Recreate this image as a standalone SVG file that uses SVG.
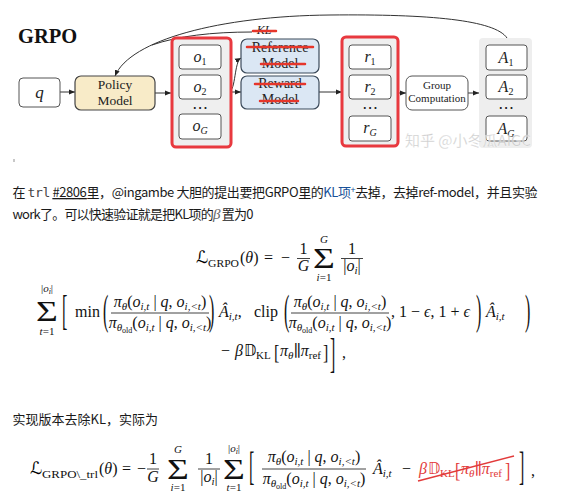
<svg xmlns="http://www.w3.org/2000/svg" width="563" height="500" viewBox="0 0 563 500">
<defs>
<marker id="ah" markerWidth="6" markerHeight="6" refX="6" refY="3" orient="auto" markerUnits="userSpaceOnUse"><path d="M0,0.5 L6,3 L0,5.5 z" fill="#222"/></marker>
<style>
.bx{fill:#fff;stroke:#555;stroke-width:1}
.grp{fill:#efefef;stroke:#e8393f;stroke-width:3}
.gry{fill:#eeeeee;stroke:none}
.pol{fill:#f8ebc8;stroke:#444;stroke-width:1.2}
.blu{fill:#dbe7f4;stroke:#3b4a5a;stroke-width:1.2}
.lt{font-family:"Liberation Serif","DejaVu Serif",serif;fill:#222}
.sk{stroke:#e6362b;stroke-width:2.5;stroke-linecap:round;fill:none}
.cn{stroke:#333;stroke-width:1;fill:none}
.p{font-family:"Noto Sans CJK SC","Noto Sans",sans-serif;font-size:13px;fill:#1a1a1a}
.m{font-family:"Liberation Serif","DejaVu Serif",serif;font-size:16px;fill:#111}
.it{font-style:italic}
.sb{font-size:11px}
.ssb{font-size:8px}
.sm{font-size:11px}
.big{font-size:30px}
.cal{font-family:"DejaVu Serif","DejaVu Sans",serif;font-style:italic;font-size:17px}
.ds{font-family:"DejaVu Sans","DejaVu Serif",serif;font-size:15px}
.bar{stroke:#111;stroke-width:0.8}
.red{fill:#e23a3a}
</style>
</defs>

<text x="18" y="43" font-family="Liberation Serif" font-weight="bold" font-size="20.5" fill="#111">GRPO</text>

<g id="connectors">
<path class="cn" d="M60 92 L75 92" marker-end="url(#ah)"/>
<path class="cn" d="M155 93 L171 93" marker-end="url(#ah)"/>
<path class="cn" d="M232 92 L241 92" marker-end="url(#ah)"/>
<path class="cn" d="M229 92 C236 90, 234 62, 241 58" marker-end="url(#ah)"/>
<path class="cn" d="M319 92 L342 92" marker-end="url(#ah)"/>
<path class="cn" d="M398 93 L406 93" marker-end="url(#ah)"/>
<path class="cn" d="M468 93 L479 93" marker-end="url(#ah)"/>
<path class="cn" d="M507 38 C495 20, 430 14, 330 15 C220 16, 130 40, 115 76" marker-end="url(#ah)"/>
<path class="cn" d="M152 45 C178 36, 212 32, 252 32"/>
</g>

<g id="q"><rect class="bx" x="19" y="78" width="41" height="29" rx="4"/><text class="lt it" x="39.5" y="98" font-size="17" text-anchor="middle">q</text></g>

<g id="policy"><rect class="pol" x="75" y="76" width="80" height="34" rx="6"/><text class="lt" font-size="13.5" text-anchor="middle"><tspan x="115" y="89">Policy</tspan><tspan x="115" y="105">Model</tspan></text></g>

<g id="outputs">
<rect class="grp" x="172" y="38" width="59" height="109" rx="4"/>
<rect class="bx" x="179" y="45" width="42" height="24" rx="3"/>
<text class="lt" x="200" y="62" text-anchor="middle" font-size="16"><tspan font-style="italic">o</tspan><tspan font-size="10" dy="3">1</tspan></text>
<rect class="bx" x="179" y="75" width="42" height="24" rx="3"/>
<text class="lt" x="200" y="92" text-anchor="middle" font-size="16"><tspan font-style="italic">o</tspan><tspan font-size="10" dy="3">2</tspan></text>
<text x="200" y="113" text-anchor="middle" font-family="DejaVu Sans" font-size="16" fill="#222">⋯</text>
<rect class="bx" x="179" y="114" width="42" height="25" rx="3"/>
<text class="lt" x="200" y="131" text-anchor="middle" font-size="16"><tspan font-style="italic">o</tspan><tspan font-size="10" font-style="italic" dy="3">G</tspan></text>
</g>

<g id="kl"><text class="lt it" x="264" y="34" font-size="12" text-anchor="middle">KL</text><path class="sk" d="M253 31 L276 31"/></g>

<g id="reference"><rect class="blu" x="241" y="39" width="78" height="34" rx="6"/><text class="lt" font-size="14" text-anchor="middle"><tspan x="280" y="52">Reference</tspan><tspan x="280" y="68">Model</tspan></text><path class="sk" d="M247 47 L313 47 M261 64 L305 64"/></g>

<g id="reward"><rect class="blu" x="241" y="76" width="78" height="33" rx="6"/><text class="lt" font-size="14" text-anchor="middle"><tspan x="280" y="88">Reward</tspan><tspan x="280" y="104">Model</tspan></text><path class="sk" d="M255 84 L305 84 M260 101 L298 101"/></g>

<g id="rewards">
<rect class="grp" x="342" y="37" width="56" height="109" rx="4"/>
<rect class="bx" x="349" y="45" width="42" height="24" rx="3"/>
<text class="lt" x="370" y="62" text-anchor="middle" font-size="16"><tspan font-style="italic">r</tspan><tspan font-size="10" dy="3">1</tspan></text>
<rect class="bx" x="349" y="75" width="42" height="24" rx="3"/>
<text class="lt" x="370" y="92" text-anchor="middle" font-size="16"><tspan font-style="italic">r</tspan><tspan font-size="10" dy="3">2</tspan></text>
<text x="370" y="113" text-anchor="middle" font-family="DejaVu Sans" font-size="16" fill="#222">⋯</text>
<rect class="bx" x="349" y="116" width="42" height="25" rx="3"/>
<text class="lt" x="370" y="133" text-anchor="middle" font-size="16"><tspan font-style="italic">r</tspan><tspan font-size="10" font-style="italic" dy="3">G</tspan></text>
</g>

<g id="group-computation"><rect class="bx" x="406" y="76" width="62" height="34" rx="6"/><text class="lt" font-size="11" text-anchor="middle"><tspan x="437" y="89">Group</tspan><tspan x="437" y="102">Computation</tspan></text></g>

<g id="advantages">
<rect class="gry" x="479" y="38" width="53" height="110" rx="4"/>
<rect class="bx" x="486" y="45" width="41" height="25" rx="3"/>
<text class="lt" x="506" y="63" text-anchor="middle" font-size="16"><tspan font-style="italic">A</tspan><tspan font-size="10" dy="3">1</tspan></text>
<rect class="bx" x="486" y="75" width="41" height="24" rx="3"/>
<text class="lt" x="506" y="92" text-anchor="middle" font-size="16"><tspan font-style="italic">A</tspan><tspan font-size="10" dy="3">2</tspan></text>
<text x="506" y="113" text-anchor="middle" font-family="DejaVu Sans" font-size="16" fill="#222">⋯</text>
<rect class="bx" x="486" y="116" width="41" height="25" rx="3"/>
<text class="lt" x="506" y="134" text-anchor="middle" font-size="16"><tspan font-style="italic">A</tspan><tspan font-size="10" font-style="italic" dy="3">G</tspan></text>
</g>

<text x="405" y="146" font-family="Noto Sans CJK SC,sans-serif" font-size="15" fill="#bdbdbd" fill-opacity="0.85" stroke="#fff" stroke-width="0.6" stroke-opacity="0.6">知乎 @小冬瓜AIGC</text>

<rect x="13" y="159" width="2" height="3" fill="#c8c8c8"/>

<text class="p" x="12.5" y="197" textLength="525" lengthAdjust="spacing">在 <tspan font-family="DejaVu Sans Mono,Liberation Mono,monospace" fill="#444">trl</tspan> <tspan text-decoration="underline">#2806</tspan>里，@ingambe 大胆的提出要把GRPO里的<tspan fill="#175199">KL项</tspan><tspan fill="#175199" font-size="9" dy="-4">+</tspan><tspan dy="4">去掉，去掉ref-model，并且实验</tspan></text>
<text class="p" x="12.5" y="219" textLength="241" lengthAdjust="spacing">work了。可以快速验证就是把KL项的<tspan font-family="Liberation Serif,serif" font-style="italic" font-size="15" fill="#666">β</tspan> 置为0</text>

<!-- Formula 1 -->
<text class="cal" x="196" y="263">ℒ</text>
<text class="m sm" x="208" y="267" textLength="31" lengthAdjust="spacingAndGlyphs">GRPO</text>
<text class="m" x="240" y="263">(<tspan class="it">θ</tspan>)</text>
<text class="m" x="264" y="263">=</text>
<text class="m" x="281" y="263">−</text>
<text class="m" x="303.5" y="254" text-anchor="middle">1</text>
<line class="bar" x1="297" y1="258.5" x2="310" y2="258.5"/>
<text class="m it" x="303.5" y="271" text-anchor="middle">G</text>
<text class="m big" transform="translate(324,268) scale(1.25,1)" text-anchor="middle">Σ</text>
<text class="m it sm" x="324" y="243" text-anchor="middle">G</text>
<text class="m sm" x="324" y="281" text-anchor="middle"><tspan class="it">i</tspan>=1</text>
<text class="m" x="352" y="254" text-anchor="middle">1</text>
<line class="bar" x1="341" y1="258.5" x2="363" y2="258.5"/>
<text class="m" x="352" y="271" text-anchor="middle">|<tspan class="it">o</tspan><tspan class="sb it" dy="3">i</tspan><tspan dy="-3">|</tspan></text>

<!-- Formula 2 -->
<text class="m big" transform="translate(47,321) scale(1.25,1)" text-anchor="middle">Σ</text>
<text class="m sm" x="47" y="292" text-anchor="middle">|<tspan class="it">o</tspan><tspan class="it ssb" dy="2">i</tspan><tspan dy="-2">|</tspan></text>
<text class="m sm" x="47" y="335" text-anchor="middle"><tspan class="it">t</tspan>=1</text>
<text class="m" transform="translate(62,324) scale(1,2.6)">[</text>
<text class="m" x="75" y="317">min</text>
<text class="m" transform="translate(103,324) scale(1,2.6)">(</text>
<text class="m" x="160" y="307" text-anchor="middle"><tspan class="it">π</tspan><tspan class="sb it" dy="3">θ</tspan><tspan dy="-3">(</tspan><tspan class="it">o</tspan><tspan class="sb it" dy="3">i,t</tspan><tspan dy="-3"> | </tspan><tspan class="it">q</tspan><tspan>, </tspan><tspan class="it">o</tspan><tspan class="sb it" dy="3">i,&lt;t</tspan><tspan dy="-3">)</tspan></text>
<line class="bar" x1="111" y1="313" x2="209" y2="313"/>
<text class="m" x="160" y="328" text-anchor="middle"><tspan class="it">π</tspan><tspan class="sb it" dy="3">θ</tspan><tspan class="ssb" dy="2">old</tspan><tspan dy="-5">(</tspan><tspan class="it">o</tspan><tspan class="sb it" dy="3">i,t</tspan><tspan dy="-3"> | </tspan><tspan class="it">q</tspan><tspan>, </tspan><tspan class="it">o</tspan><tspan class="sb it" dy="3">i,&lt;t</tspan><tspan dy="-3">)</tspan></text>
<text class="m" transform="translate(209,324) scale(1,2.6)">)</text>
<text class="m" x="219" y="317"><tspan class="it">Â</tspan><tspan class="sb it" dy="3">i,t</tspan><tspan dy="-3">,</tspan></text>
<text class="m" x="254" y="317">clip</text>
<text class="m" transform="translate(284,324) scale(1,2.6)">(</text>
<text class="m" x="340" y="307" text-anchor="middle"><tspan class="it">π</tspan><tspan class="sb it" dy="3">θ</tspan><tspan dy="-3">(</tspan><tspan class="it">o</tspan><tspan class="sb it" dy="3">i,t</tspan><tspan dy="-3"> | </tspan><tspan class="it">q</tspan><tspan>, </tspan><tspan class="it">o</tspan><tspan class="sb it" dy="3">i,&lt;t</tspan><tspan dy="-3">)</tspan></text>
<line class="bar" x1="291" y1="313" x2="389" y2="313"/>
<text class="m" x="340" y="328" text-anchor="middle"><tspan class="it">π</tspan><tspan class="sb it" dy="3">θ</tspan><tspan class="ssb" dy="2">old</tspan><tspan dy="-5">(</tspan><tspan class="it">o</tspan><tspan class="sb it" dy="3">i,t</tspan><tspan dy="-3"> | </tspan><tspan class="it">q</tspan><tspan>, </tspan><tspan class="it">o</tspan><tspan class="sb it" dy="3">i,&lt;t</tspan><tspan dy="-3">)</tspan></text>
<text class="m" x="391" y="317">, 1 − <tspan class="it">ϵ</tspan>, 1 + <tspan class="it">ϵ</tspan></text>
<text class="m" transform="translate(476,324) scale(1,2.6)">)</text>
<text class="m" x="486" y="317"><tspan class="it">Â</tspan><tspan class="sb it" dy="3">i,t</tspan></text>
<text class="m" transform="translate(525,324) scale(1,2.6)">)</text>
<text class="m" x="221" y="356">−</text>
<text class="m it" x="235" y="356">β</text>
<text class="ds" x="244" y="356">𝔻</text>
<text class="m sm" x="256" y="359">KL</text>
<text class="m" transform="translate(274,359) scale(1,1.3)">[</text>
<text class="m" x="280" y="356"><tspan class="it">π</tspan><tspan class="sb it" dy="3">θ</tspan><tspan dy="-3">∥</tspan><tspan class="it">π</tspan><tspan class="sb" dy="3">ref</tspan></text>
<text class="m" transform="translate(323,359) scale(1,1.3)">]</text>
<text class="m" transform="translate(330,367) scale(1,2.6)">]</text>
<text class="m" x="342" y="358">,</text>

<text class="p" x="12.5" y="424">实现版本去除KL，实际为</text>

<!-- Formula 3 -->
<text class="cal" x="30" y="474">ℒ</text>
<text class="m sm" x="42" y="478" textLength="56" lengthAdjust="spacingAndGlyphs">GRPO\_trl</text>
<text class="m" x="99" y="474">(<tspan class="it">θ</tspan>)</text>
<text class="m" x="122" y="474">=</text>
<text class="m" x="137" y="474">−</text>
<text class="m" x="153" y="464" text-anchor="middle">1</text>
<line class="bar" x1="147" y1="469" x2="159" y2="469"/>
<text class="m it" x="153" y="482" text-anchor="middle">G</text>
<text class="m big" transform="translate(178,479) scale(1.25,1)" text-anchor="middle">Σ</text>
<text class="m it sm" x="178" y="453" text-anchor="middle">G</text>
<text class="m sm" x="178" y="491" text-anchor="middle"><tspan class="it">i</tspan>=1</text>
<text class="m" x="209" y="464" text-anchor="middle">1</text>
<line class="bar" x1="198" y1="469" x2="220" y2="469"/>
<text class="m" x="209" y="482" text-anchor="middle">|<tspan class="it">o</tspan><tspan class="sb it" dy="3">i</tspan><tspan dy="-3">|</tspan></text>
<text class="m big" transform="translate(234,479) scale(1.25,1)" text-anchor="middle">Σ</text>
<text class="m sm" x="234" y="452" text-anchor="middle">|<tspan class="it">o</tspan><tspan class="it ssb" dy="2">i</tspan><tspan dy="-2">|</tspan></text>
<text class="m sm" x="234" y="491" text-anchor="middle"><tspan class="it">t</tspan>=1</text>
<text class="m" transform="translate(249,480) scale(1,2.5)">[</text>
<text class="m" x="314" y="462" text-anchor="middle"><tspan class="it">π</tspan><tspan class="sb it" dy="3">θ</tspan><tspan dy="-3">(</tspan><tspan class="it">o</tspan><tspan class="sb it" dy="3">i,t</tspan><tspan dy="-3"> | </tspan><tspan class="it">q</tspan><tspan>, </tspan><tspan class="it">o</tspan><tspan class="sb it" dy="3">i,&lt;t</tspan><tspan dy="-3">)</tspan></text>
<line class="bar" x1="262" y1="469" x2="366" y2="469"/>
<text class="m" x="314" y="484" text-anchor="middle"><tspan class="it">π</tspan><tspan class="sb it" dy="3">θ</tspan><tspan class="ssb" dy="2">old</tspan><tspan dy="-5">(</tspan><tspan class="it">o</tspan><tspan class="sb it" dy="3">i,t</tspan><tspan dy="-3"> | </tspan><tspan class="it">q</tspan><tspan>, </tspan><tspan class="it">o</tspan><tspan class="sb it" dy="3">i,&lt;t</tspan><tspan dy="-3">)</tspan></text>
<text class="m" x="373" y="474"><tspan class="it">Â</tspan><tspan class="sb it" dy="3">i,t</tspan></text>
<text class="m" x="402" y="474">−</text>
<g id="struck-kl">
<text class="m it red" x="419" y="474">β</text>
<text class="ds red" x="428" y="474">𝔻</text>
<text class="m sm red" x="440" y="477">KL</text>
<text class="m red" transform="translate(455,477) scale(1,1.3)">[</text>
<text class="m red" x="461" y="474"><tspan class="it">π</tspan><tspan class="sb it" dy="3">θ</tspan><tspan dy="-3">∥</tspan><tspan class="it">π</tspan><tspan class="sb" dy="3">ref</tspan></text>
<text class="m red" transform="translate(505,477) scale(1,1.3)">]</text>
<path d="M418 481 L514 456" stroke="#e23a3a" stroke-width="1.4" fill="none"/>
</g>
<text class="m" transform="translate(519,480) scale(1,2.5)">]</text>
<text class="m" x="531" y="476">,</text>
</svg>
